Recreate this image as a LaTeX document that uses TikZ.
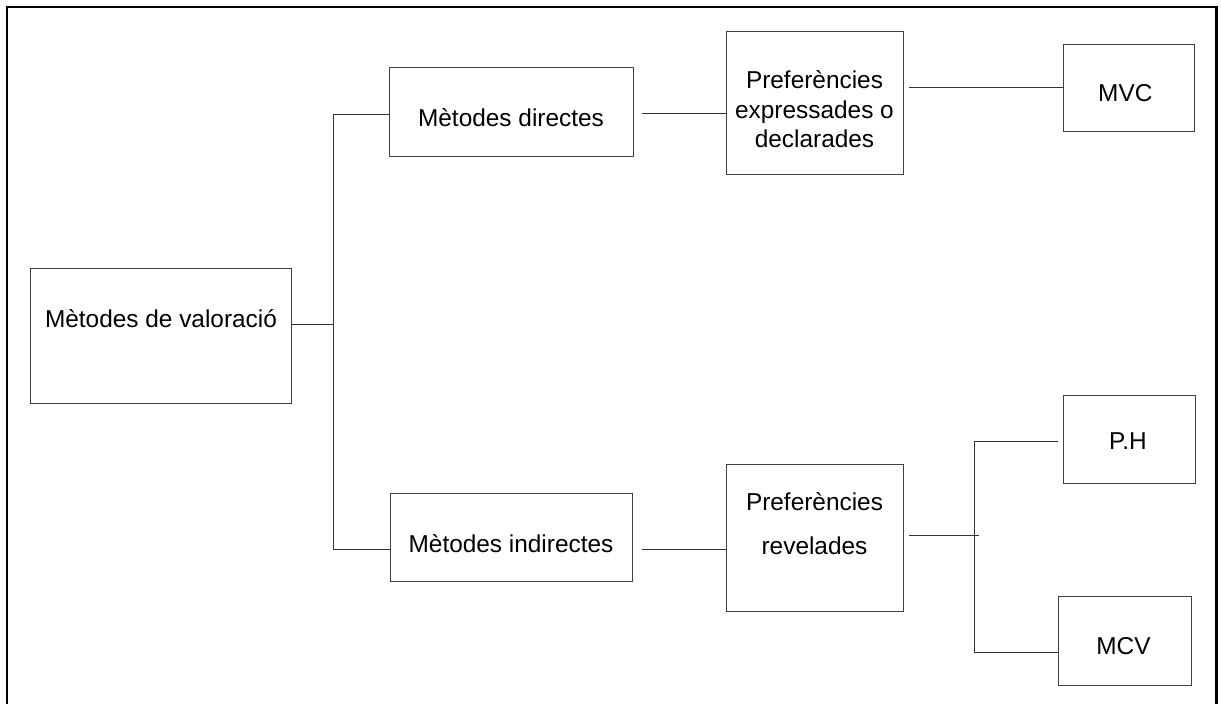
\documentclass[tikz,border=0pt]{standalone}
\usepackage{fontspec}
\setmainfont{Liberation Sans}
\usetikzlibrary{calc}
\tikzset{
  boxnode/.style={draw=black!75, line width=1pt, rectangle, inner sep=0pt, fill=none},
  conn/.style={draw=black!80, line width=1pt},
  frameline/.style={draw=black, line width=2.5pt},
  onetext/.style={inner sep=0pt, text height=17.5pt, text depth=0pt, font=\fontsize{24.4}{29.5}\selectfont},
  multitext/.style={inner sep=0pt, align=center, anchor=north}
}
\begin{document}
\begin{tikzpicture}[x=1pt,y=-1pt]
\useasboundingbox (0,0) rectangle (1221,704);
\begin{scope}
\clip (0,0) rectangle (1221,704);
\draw[frameline] (7,720) -- (7,7) -- (1216.5,7) -- (1216.5,720);
\end{scope}

% boxes
\node[boxnode, minimum width=261pt, minimum height=135.7pt] (val) at (161,336) {};
\node[boxnode, minimum width=244pt, minimum height=89pt] (dir) at (511,111.5) {};
\node[boxnode, minimum width=242pt, minimum height=88pt] (ind) at (511,537) {};
\node[boxnode, minimum width=177pt, minimum height=143pt] (pe) at (814.5,102.5) {};
\node[boxnode, minimum width=177pt, minimum height=146.7pt] (pr) at (814.5,537.7) {};
\node[boxnode, minimum width=130.7pt, minimum height=87.7pt] (mvc) at (1128.7,87.9) {};
\node[boxnode, minimum width=132pt, minimum height=88pt] (ph) at (1129,439) {};
\node[boxnode, minimum width=133pt, minimum height=89pt] (mcv) at (1124.5,640.5) {};

% texts
\node[onetext] (tval) at (161,318.5) {Mètodes de valoració};
\node[onetext] (tdir) at (511,117.5) {Mètodes directes};
\node[onetext] (tind) at (511,544) {Mètodes indirectes};
\node[multitext, font=\fontsize{24.4}{29.5}\selectfont] (tpe) at (814.5,70.5) {Preferències\\expressades o\\declarades};
\node[multitext, font=\fontsize{24.4}{44}\selectfont] (tpr) at (814.5,492.3) {Preferències\\revelades};
\node[onetext] (tmvc) at (1125.3,92.8) {MVC};
\node[onetext] (tph) at (1128,441) {P.H};
\node[onetext] (tmcv) at (1123.5,645.3) {MCV};

% junction coordinates
\coordinate (j1) at (333,324);
\coordinate (jt) at (333,114.5);
\coordinate (jb) at (333,549);
\coordinate (a1) at (642,113);
\coordinate (a2) at (642,549);
\coordinate (a3) at (909,87);
\coordinate (a4) at (909,535);
\coordinate (k1) at (979,535);
\coordinate (kt) at (974,441);
\coordinate (kb) at (974,652);
\coordinate (pht) at (1058,441);

% connectors
\draw[conn] (val.east |- j1) -- (j1);
\draw[conn] (jt) -- (jb);
\draw[conn] (jt) -- (jt -| dir.west);
\draw[conn] (jb) -- (jb -| ind.west);
\draw[conn] (a1) -- (a1 -| pe.west);
\draw[conn] (a2) -- (a2 -| pr.west);
\draw[conn] (a3) -- (a3 -| mvc.west);
\draw[conn] (a4) -- (k1);
\draw[conn] (kt) -- (kb);
\draw[conn] (kt) -- (pht);
\draw[conn] (kb) -- (kb -| mcv.west);
\end{tikzpicture}
\end{document}
